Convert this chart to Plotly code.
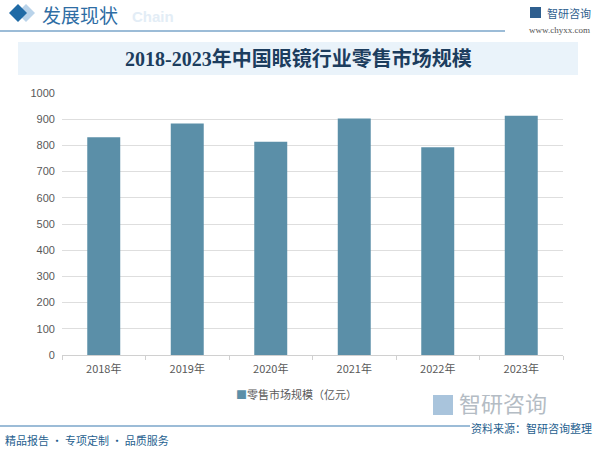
import plotly.graph_objects as go

years = ["2018年", "2019年", "2020年", "2021年", "2022年", "2023年"]
retail_size = [831, 884, 814, 903, 793, 913]
series_name = "零售市场规模（亿元）"
title_text = "2018-2023年中国眼镜行业零售市场规模"

W, H = 600, 451
ML, MR, MT, MB = 62, 37, 93, 96
PW, PH = W - ML - MR, H - MT - MB
BAR_COLOR = "#5b8fa8"


def px(x):
    return (x - ML) / PW


def py(y):
    return (H - MB - y) / PH


CJK = "Noto Sans CJK SC"
fig = go.Figure()
fig.add_trace(go.Bar(
    x=years, y=retail_size, name=series_name,
    marker=dict(color=BAR_COLOR, line=dict(width=0)),
    width=0.395, showlegend=False,
))

shapes = []
shapes.append(dict(type="line", xref="paper", yref="paper", x0=px(0), x1=px(505), y0=py(31), y1=py(31),
                   line=dict(color="#3b7bb0", width=1.2)))


def diamond(cx, cy, r, color):
    return dict(type="path", xref="paper", yref="paper",
                path=f"M {px(cx-r)} {py(cy)} L {px(cx)} {py(cy-r)} L {px(cx+r)} {py(cy)} L {px(cx)} {py(cy+r)} Z",
                fillcolor=color, line=dict(width=0))


shapes.append(diamond(26, 13, 9, "#b9d3ea"))
shapes.append(diamond(18, 13, 9, "#1f6aa5"))
shapes.append(dict(type="rect", xref="paper", yref="paper", x0=px(18), x1=px(578), y0=py(75), y1=py(42),
                   fillcolor="#eaf3fa", line=dict(width=0), layer="below"))
shapes.append(dict(type="line", xref="paper", yref="paper", x0=px(0), x1=px(470), y0=py(426), y1=py(426),
                   line=dict(color="#3b7bb0", width=1.2)))
shapes.append(dict(type="rect", xref="paper", yref="paper", x0=px(530), x1=px(541), y0=py(18), y1=py(7),
                   fillcolor="#2f5f8f", line=dict(width=0)))
shapes.append(dict(type="rect", xref="paper", yref="paper", x0=px(433), x1=px(453), y0=py(415), y1=py(395),
                   fillcolor="#a9c4dc", line=dict(width=0)))

ann = []
ann.append(dict(text="发展现状", x=px(40), y=py(14), xref="paper", yref="paper", xanchor="left", yanchor="middle",
                showarrow=False, font=dict(family=CJK, size=19, color="#2e6da4")))
ann.append(dict(text="<b>Chain</b>", x=px(130), y=py(16), xref="paper", yref="paper", xanchor="left", yanchor="middle",
                showarrow=False, font=dict(family="Liberation Sans", size=15, color="#e3edf6")))
ann.append(dict(text="智研咨询", x=px(545), y=py(13), xref="paper", yref="paper", xanchor="left", yanchor="middle",
                showarrow=False, font=dict(family=CJK, size=11, color="#2f5f8f")))
ann.append(dict(text="www.chyxx.com", x=px(592), y=py(30), xref="paper", yref="paper", xanchor="right", yanchor="middle",
                showarrow=False, font=dict(family="Liberation Serif", size=9, color="#555555")))
ann.append(dict(text="<b>" + title_text + "</b>", x=px(298), y=py(59), xref="paper", yref="paper",
                xanchor="center", yanchor="middle", showarrow=False,
                font=dict(family="Liberation Serif, " + CJK, size=20, color="#1c3d5e")))
ann.append(dict(text="<span style='color:" + BAR_COLOR + "'>■</span>" + series_name, x=px(296), y=py(394),
                xref="paper", yref="paper", xanchor="center", yanchor="middle", showarrow=False,
                font=dict(family=CJK, size=11, color="#595959")))
ann.append(dict(text="智研咨询", x=px(457), y=py(402), xref="paper", yref="paper", xanchor="left", yanchor="middle",
                showarrow=False, font=dict(family=CJK, size=22, color="#b4bcc4")))
ann.append(dict(text="资料来源：智研咨询整理", x=px(593), y=py(428), xref="paper", yref="paper", xanchor="right",
                yanchor="middle", showarrow=False, bgcolor="white", borderpad=0,
                font=dict(family=CJK, size=11, color="#1f5f8f")))
ann.append(dict(text="精品报告 · 专项定制 · 品质服务", x=px(3), y=py(440), xref="paper", yref="paper", xanchor="left",
                yanchor="middle", showarrow=False, font=dict(family=CJK, size=11, color="#1f5f8f")))

fig.update_layout(
    width=W, height=H,
    margin=dict(l=ML, r=MR, t=MT, b=MB),
    paper_bgcolor="white", plot_bgcolor="white",
    font=dict(family=CJK, size=11, color="#595959"),
    bargap=0.605,
    shapes=shapes, annotations=ann,
    showlegend=False,
    xaxis=dict(showgrid=False, showline=True, linecolor="#d0d0d0", ticks="outside", tickson="boundaries",
               ticklen=4, tickcolor="#d0d0d0", ticklabelstandoff=4,
               tickfont=dict(size=11, color="#595959")),
    yaxis=dict(range=[0, 1000], dtick=100, showgrid=True, gridcolor="#dedede", gridwidth=1,
               zeroline=False, showline=False, tickfont=dict(family="Liberation Sans", size=11, color="#595959"),
               ticksuffix="  "),
)
fig.write_html("out.html", config={"displayModeBar": False},
               post_script="document.body.style.margin='0px';document.body.style.overflow='hidden';")
